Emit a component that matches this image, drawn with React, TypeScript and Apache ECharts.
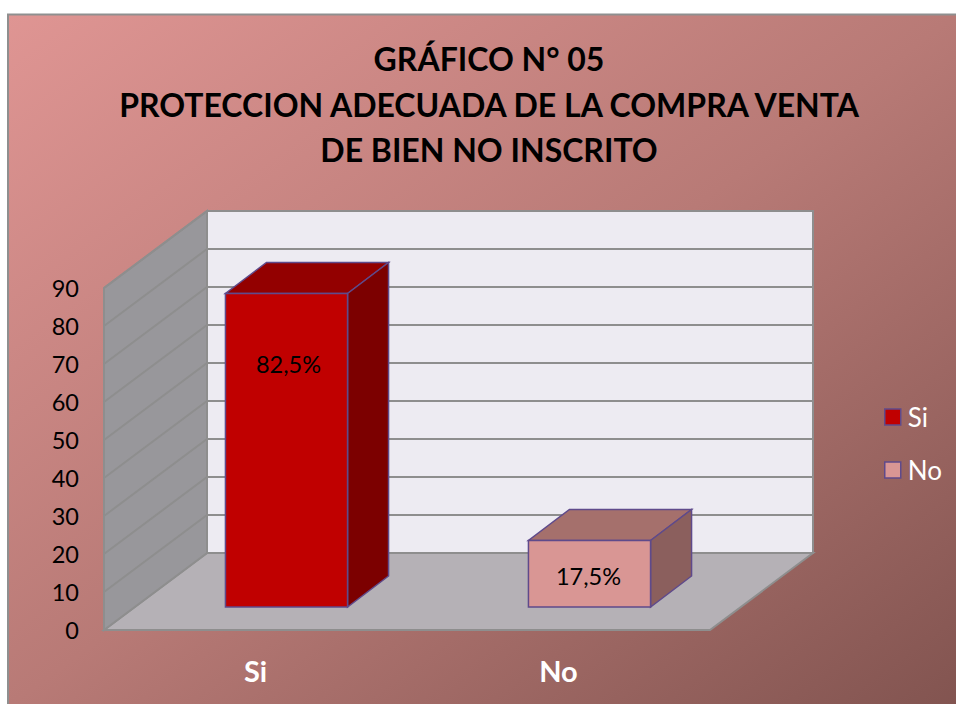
import React, { useEffect, useRef } from "react";
import * as echarts from "echarts";

const titleLines = ["GRÁFICO N° 05", "PROTECCION ADECUADA DE LA COMPRA VENTA", "DE BIEN NO INSCRITO"];
const categories = ["Si", "No"];
const siValues = [["Si", 82.5]];
const noValues = [["No", 17.5]];
const siLabel = "82,5%";
const noLabel = "17,5%";
const gridTicks = [10, 20, 30, 40, 50, 60, 70, 80, 90];

const FONT = "Lato, 'Open Sans', sans-serif";
const WALL_DX = 103;
const WALL_DY = -77;
const BAR_SHIFT_X = 31;
const BAR_SHIFT_Y = -23;
const BAR_DX = 41;
const BAR_DY = -31;
const BAR_FRAC = 0.403;
const EDGE = "#5f4a8b";

function poly(points: number[][], fill: any, stroke?: string, lineWidth = 1.5) {
  return {
    type: "polygon",
    shape: { points },
    style: { fill, stroke: stroke || "none", lineWidth },
  };
}

function barRender(front: string, top: string, side: string, label: string, labelDy: number, labelDx: number) {
  return (params: any, api: any) => {
    const cat = api.value(0);
    const [cx, y0] = api.coord([cat, 0]);
    const [, y1] = api.coord([cat, api.value(1)]);
    const w = api.size([1, 0])[0] * BAR_FRAC;
    const l = cx + BAR_SHIFT_X - w / 2;
    const r = l + w;
    const b = y0 + BAR_SHIFT_Y;
    const t = y1 + BAR_SHIFT_Y;
    return {
      type: "group",
      children: [
        poly([[l, t], [r, t], [r + BAR_DX, t + BAR_DY], [l + BAR_DX, t + BAR_DY]], top, EDGE),
        poly([[r, t], [r + BAR_DX, t + BAR_DY], [r + BAR_DX, b + BAR_DY], [r, b]], side, EDGE),
        poly([[l, t], [r, t], [r, b], [l, b]], front, EDGE),
        {
          type: "text",
          style: {
            x: (l + r) / 2 + labelDx,
            y: t + labelDy,
            text: label,
            fill: "#000000",
            font: `23.5px ${FONT}`,
            align: "center",
            verticalAlign: "middle",
          },
        },
      ],
    };
  };
}

export default function App() {
  const ref = useRef<HTMLDivElement>(null);
  useEffect(() => {
    const chart = echarts.init(ref.current!, null, { renderer: "svg" });
    const gridLeft = 104;
    const gridTop = 288;
    const gridWidth = 606;
    const gridHeight = 342;
    chart.setOption({
      animation: false,
      backgroundColor: "#ffffff",
      title: {
        text: titleLines.join("\n"),
        left: 484,
        top: 31,
        textAlign: "center",
        textStyle: {
          fontFamily: FONT,
          fontWeight: "bold",
          fontSize: 32,
          lineHeight: 45.5,
          color: "#000000",
        },
      },
      graphic: [
        {
          type: "rect",
          z: 0,
          shape: { x: 8, y: 14.5, width: 950, height: 692 },
          style: {
            fill: new echarts.graphic.LinearGradient(0, 0, 1, 1, [
              { offset: 0, color: "#df9593" },
              { offset: 0.5, color: "#b87a76" },
              { offset: 1, color: "#825450" },
            ]),
            stroke: "#8f8f8f",
            lineWidth: 2,
          },
        },
      ],
      legend: {
        orient: "vertical",
        left: 879,
        top: 399,
        itemWidth: 16,
        itemHeight: 16,
        itemGap: 27,
        icon: "rect",
        selectedMode: false,
        textStyle: { color: "#ffffff", fontFamily: FONT, fontSize: 26, padding: [0, 0, 0, 2] },
        data: [
          { name: "Si", itemStyle: { color: "#c00000", borderColor: EDGE, borderWidth: 1.5 } },
          { name: "No", itemStyle: { color: "#d99694", borderColor: EDGE, borderWidth: 1.5 } },
        ],
      },
      grid: { left: gridLeft, top: gridTop, width: gridWidth, height: gridHeight },
      xAxis: {
        type: "category",
        data: categories,
        axisLine: { show: false },
        axisTick: { show: false },
        axisLabel: {
          color: "#ffffff",
          fontFamily: FONT,
          fontWeight: "bold",
          fontSize: 29,
          margin: 26,
        },
      },
      yAxis: {
        type: "value",
        min: 0,
        max: 90,
        interval: 10,
        axisLine: { show: false },
        axisTick: { show: false },
        splitLine: { show: false },
        axisLabel: { color: "#000000", fontFamily: FONT, fontSize: 23.5, margin: 25 },
      },
      series: [
        {
          name: "walls",
          type: "custom",
          silent: true,
          z: 2,
          data: [[0, 0]],
          encode: { x: 0, y: 1 },
          clip: false,
          renderItem: (params: any) => {
            const c = params.coordSys;
            const L = c.x;
            const R = c.x + c.width;
            const T = c.y;
            const B = c.y + c.height;
            const dx = WALL_DX;
            const dy = WALL_DY;
            return {
              type: "group",
              children: [
                poly([[L + dx, T + dy], [R + dx, T + dy], [R + dx, B + dy], [L + dx, B + dy]], "#edebf2", "#8e8e8e", 2),
                poly([[L, B], [R, B], [R + dx, B + dy], [L + dx, B + dy]], "#b5b1b6", "#8e8e8e", 2),
                poly([[L, T], [L + dx, T + dy], [L + dx, B + dy], [L, B]], "#98979b", "#8e8e8e", 2),
              ],
            };
          },
        },
        {
          name: "grid",
          type: "custom",
          silent: true,
          z: 3,
          clip: false,
          data: gridTicks.map((v) => [0, v]),
          encode: { x: 0, y: 1 },
          renderItem: (params: any, api: any) => {
            const c = params.coordSys;
            const y = api.coord([0, api.value(1)])[1];
            const L = c.x;
            const R = c.x + c.width;
            return {
              type: "polyline",
              shape: {
                points: [[L, y], [L + WALL_DX, y + WALL_DY], [R + WALL_DX, y + WALL_DY]],
              },
              style: { fill: "none", stroke: "#8e8e8e", lineWidth: 2 },
            };
          },
        },
        {
          name: "Si",
          type: "custom",
          z: 4,
          clip: false,
          itemStyle: { color: "#c00000" },
          data: siValues,
          encode: { x: 0, y: 1 },
          renderItem: barRender("#c00000", "#930000", "#7c0000", siLabel, 70, 2),
        },
        {
          name: "No",
          type: "custom",
          z: 4,
          clip: false,
          itemStyle: { color: "#d99694" },
          data: noValues,
          encode: { x: 0, y: 1 },
          renderItem: barRender("#d99694", "#a5706c", "#8b5f5d", noLabel, 35, -1),
        },
      ],
    });
    return () => chart.dispose();
  }, []);
  return (
    <div
      ref={ref}
      style={{ position: "absolute", left: 0, top: 0, width: 956, height: 704 }}
    />
  );
}
